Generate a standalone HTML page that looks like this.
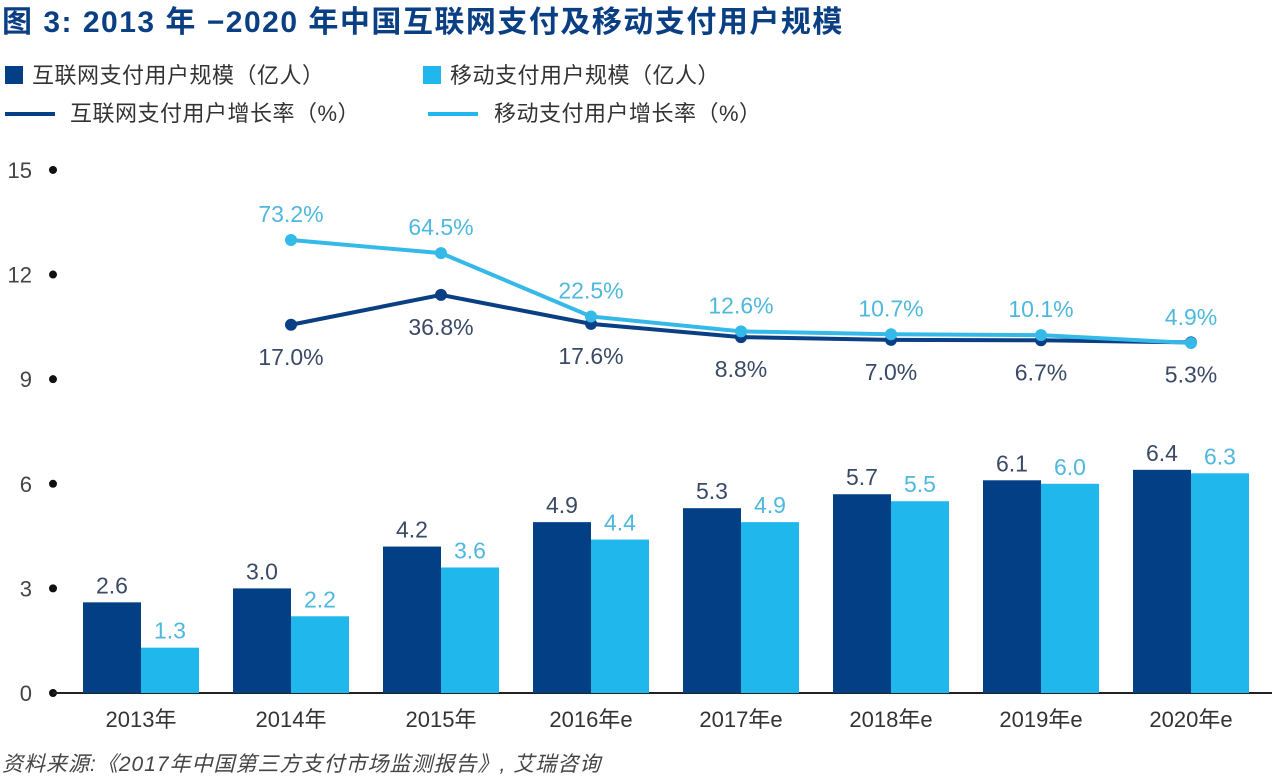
<!DOCTYPE html>
<html><head><meta charset="utf-8"><style>
body{margin:0;background:#fff;width:1280px;height:778px;overflow:hidden}
svg text{font-family:"Liberation Sans","Noto Sans CJK SC",sans-serif}
</style></head><body>
<svg width="1280" height="778">
<text x="2" y="32" font-size="30" font-weight="bold" letter-spacing="1.5" fill="#0a3f84">图 3: 2013 年 −2020 年中国互联网支付及移动支付用户规模</text>
<rect x="5" y="66" width="18" height="18" fill="#033f85"/>
<text x="32" y="83" font-size="22" letter-spacing="0.5" fill="#333">互联网支付用户规模（亿人）</text>
<rect x="423" y="66" width="18" height="18" fill="#20b7ec"/>
<text x="450" y="83" font-size="22" letter-spacing="0.5" fill="#333">移动支付用户规模（亿人）</text>
<line x1="5" y1="114" x2="55" y2="114" stroke="#033f85" stroke-width="4"/>
<text x="70" y="121" font-size="22" letter-spacing="0.5" fill="#333">互联网支付用户增长率（%）</text>
<line x1="428" y1="114" x2="478" y2="114" stroke="#20b7ec" stroke-width="4"/>
<text x="494" y="121" font-size="22" letter-spacing="0.5" fill="#333">移动支付用户增长率（%）</text>
<g id="plot"></g>
<text x="2" y="771" font-size="21" font-style="italic" letter-spacing="1" fill="#444">资料来源:《2017年中国第三方支付市场监测报告》, 艾瑞咨询</text>
</svg>
<script>
const categories=["2013年","2014年","2015年","2016年e","2017年e","2018年e","2019年e","2020年e"];
const internetUsers=[2.6,3.0,4.2,4.9,5.3,5.7,6.1,6.4];
const mobileUsers=[1.3,2.2,3.6,4.4,4.9,5.5,6.0,6.3];
const internetGrowth=[17.0,36.8,17.6,8.8,7.0,6.7,5.3];
const mobileGrowth=[73.2,64.5,22.5,12.6,10.7,10.1,4.9];
const yTicks=[0,3,6,9,12,15];
const NS="http://www.w3.org/2000/svg";
const g=document.getElementById('plot');
const y=v=>693-v*34.87;
const yp=v=>350.4-1.508*v;
const cx=i=>83+150*i;
function mk(t,a,txt){const e=document.createElementNS(NS,t);for(const k in a)e.setAttribute(k,a[k]);if(txt!==undefined)e.textContent=txt;g.appendChild(e);return e;}
yTicks.forEach(v=>{
 let t=mk('text',{x:32,y:y(v)+8,'font-size':22,'text-anchor':'end',fill:'#444'},v);
 
 
 let c=mk('circle',{cx:53,cy:y(v),r:4,fill:'#111'});
 
 
});
let ax=mk('line',{x1:53,y1:693,x2:1272,y2:693,stroke:'#222','stroke-width':2});


categories.forEach((c,i)=>{
 let b1=mk('rect',{x:cx(i),y:y(internetUsers[i]),width:58,height:693-y(internetUsers[i]),fill:'#033f85'});
 
 
 let b2=mk('rect',{x:cx(i)+58,y:y(mobileUsers[i]),width:58,height:693-y(mobileUsers[i]),fill:'#20b7ec'});
 
 
 let l1=mk('text',{x:cx(i)+29,y:y(internetUsers[i])-9,'font-size':23,'text-anchor':'middle',fill:'#3a4a66'},internetUsers[i].toFixed(1));
 
 
 let l2=mk('text',{x:cx(i)+87,y:y(mobileUsers[i])-9,'font-size':23,'text-anchor':'middle',fill:'#4fb8dd'},mobileUsers[i].toFixed(1));
 
 
 let xl=mk('text',{x:cx(i)+58,y:727,'font-size':22,'text-anchor':'middle',fill:'#333'},c);
 
 
});
function line(arr,color,name,above){
 const pts=arr.map((v,i)=>[cx(i+1)+58,yp(v)]);
 let p=mk('polyline',{points:pts.map(p=>p.join(',')).join(' '),fill:'none',stroke:color,'stroke-width':4});
 
 
 pts.forEach((pt,i)=>{
  let c=mk('circle',{cx:pt[0],cy:pt[1],r:6,fill:color});
  
  
  let t=mk('text',{x:pt[0],y:above?pt[1]-18:pt[1]+40,'font-size':23,'text-anchor':'middle',fill:above?'#4fb8dd':'#3a4a66'},arr[i].toFixed(1)+'%');
  
  
 });
}
line(internetGrowth,'#0a3f84','internet-growth',false);
line(mobileGrowth,'#35b9e9','mobile-growth',true);
</script>
</body></html>
